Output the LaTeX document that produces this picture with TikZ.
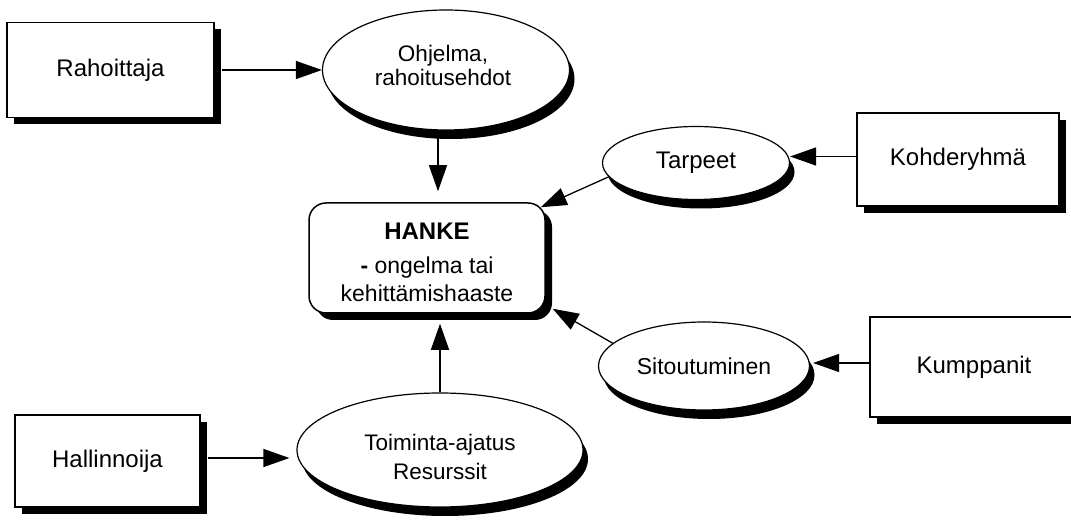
\documentclass[tikz,border=0pt]{standalone}
\usepackage{fontspec}
\setmainfont{Liberation Sans}
\usetikzlibrary{shapes.geometric,shadows,arrows.meta,calc}
\begin{document}
\begin{tikzpicture}[x=1pt,y=-1pt,
  sh/.style={drop shadow={shadow xshift=7pt, shadow yshift=-7pt, opacity=1, fill=black}},
  osh/.style={drop shadow={shadow xshift=5pt, shadow yshift=-9pt, opacity=1, fill=black}},
  box/.style={sh, draw, line width=1.5pt, fill=white, rectangle, inner sep=0pt,
    font=\fontsize{24}{28}\selectfont},
  oval/.style={osh, draw, line width=1.2pt, fill=white, ellipse, inner sep=0pt,
    font=\fontsize{23}{26}\selectfont},
  lbl/.style={align=center, inner sep=0pt},
  arr/.style={line width=1.3pt, -{Triangle[length=26pt,width=18pt]}},
]
\path[use as bounding box] (0,0) rectangle (1071,521);
\begin{scope}
\clip (0,0) rectangle (1071,521);
% nodes
\node[box, minimum width=207pt, minimum height=95pt] (rah) at (110.5,70) {Rahoittaja};
\node[oval, minimum width=247pt, minimum height=120pt] (ohj) at (446,70) {};
\node[lbl, font=\fontsize{22.5}{24}\selectfont] (ohjT) at (443,65) {Ohjelma,\\rahoitusehdot};
\node[oval, minimum width=187pt, minimum height=73pt, font=\fontsize{24}{28}\selectfont] (tar) at (696,163) {Tarpeet};
\node[box, minimum width=202pt, minimum height=93pt] (koh) at (958,159.5) {Kohderyhmä};
\node[box, rounded corners=17pt, minimum width=236pt, minimum height=110pt] (han) at (427,258) {};
\node[lbl, font=\fontsize{23}{28}\selectfont] (hanT) at (427,262)
  {{\fontsize{24}{28}\selectfont\bfseries HANKE}\\[6pt]{\bfseries -} ongelma tai\\kehittämishaaste};
\node[oval, minimum width=211pt, minimum height=88pt] (sit) at (704,366) {Sitoutuminen};
\node[box, minimum width=208pt, minimum height=100pt] (kum) at (974,367) {Kumppanit};
\node[oval, minimum width=286pt, minimum height=114pt] (toi) at (440,450) {};
\node[lbl, font=\fontsize{22.5}{29}\selectfont] (toiT) at (440,457) {Toiminta-ajatus\\Resurssit};
\node[box, minimum width=185pt, minimum height=92pt] (hal) at (107.5,461) {Hallinnoija};
% connectors
\draw[arr] ([xshift=7pt]rah.east) -- (ohj.west);
\draw[arr, shorten >=11pt] ([xshift=-8pt]ohj.south) -- ([xshift=11pt]han.north);
\draw[arr] ([yshift=3pt]koh.west) -- ([yshift=3pt]koh.west -| tar.east);
\draw[arr] (tar.189) -- ([xshift=-5pt,yshift=-5pt]han.north east);
\draw[arr, shorten >=3pt] ([yshift=4pt]kum.west) -- ([yshift=4pt]kum.west -| sit.east);
\draw[arr] (sit.166) -- ([xshift=7pt,yshift=5pt]han.south east);
\draw[arr, shorten >=10pt] (toi.north) -- (toi.north |- han.south);
\draw[arr, shorten >=7pt] ([xshift=7pt,yshift=3pt]hal.east) -- ([yshift=3pt]hal.east -| toi.west);
\end{scope}
\end{tikzpicture}
\end{document}
